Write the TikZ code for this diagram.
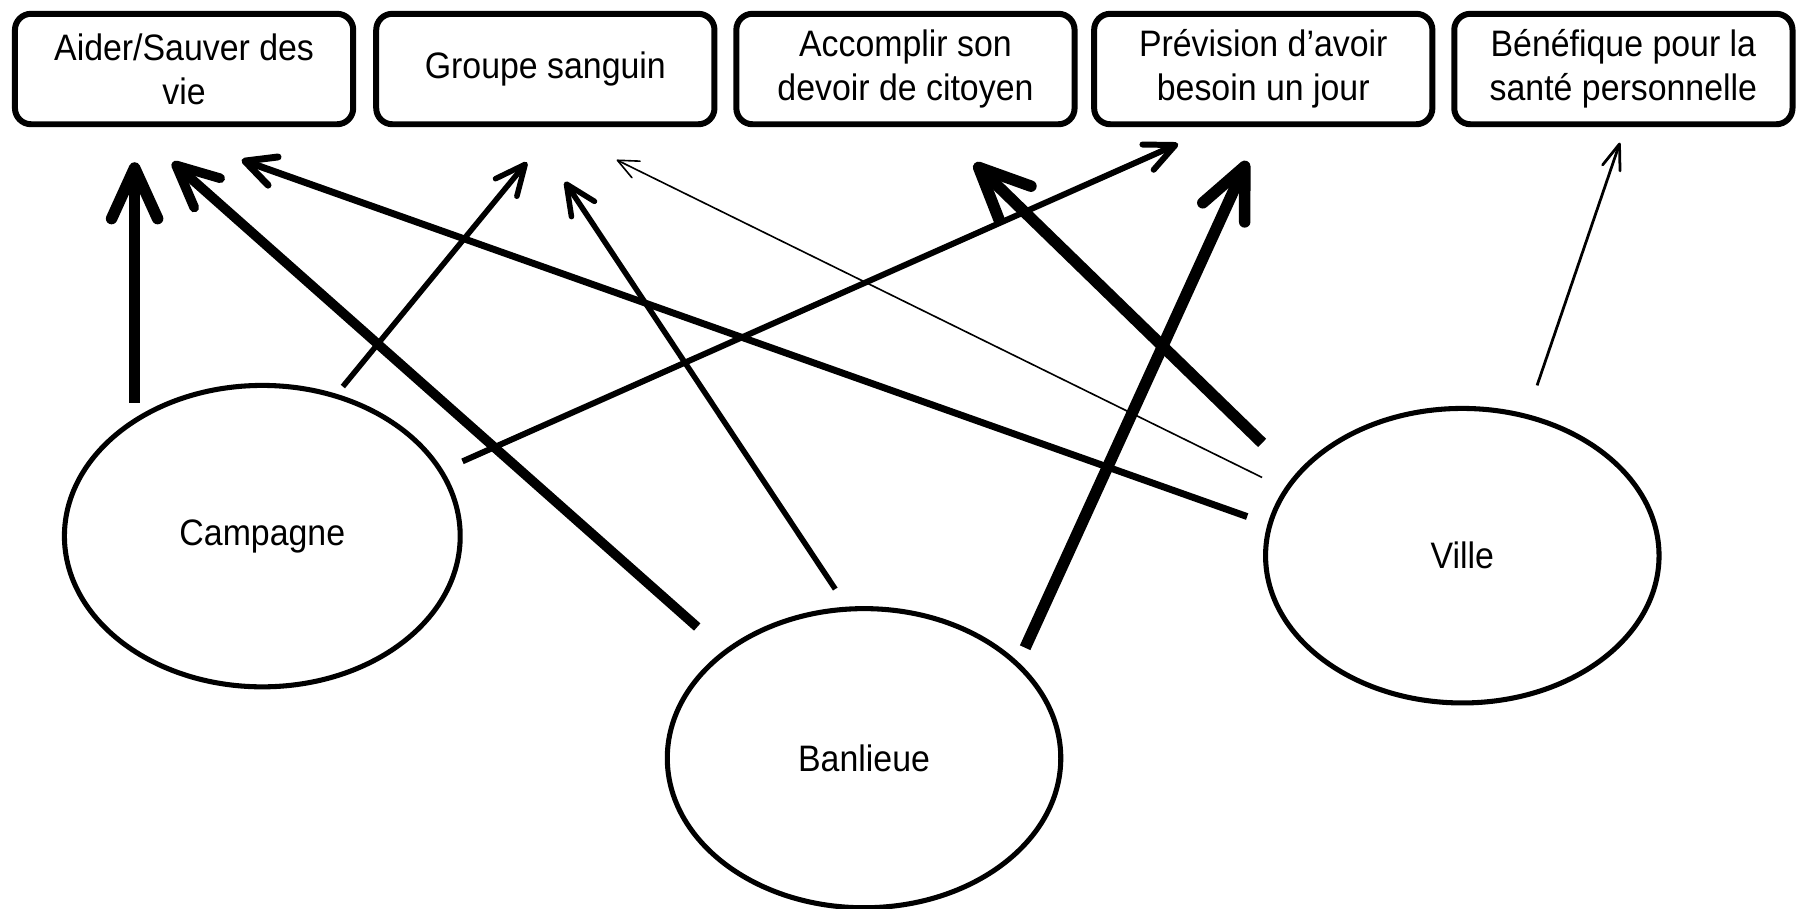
\documentclass[tikz,border=0pt]{standalone}
\usepackage{fontspec}
\setmainfont{Liberation Sans}[FakeStretch=0.92]
\usetikzlibrary{arrows.meta,shapes.geometric}
\begin{document}
\begin{tikzpicture}[x=0.5pt,y=-0.5pt,
  txt/.style={font=\fontsize{16}{19}\selectfont},
  box/.style={txt, draw, line width=2.6pt, rounded corners=7pt, minimum width=147pt, minimum height=48pt, align=center, inner sep=0pt},
  place/.style={txt, draw, ellipse, line width=2.2pt, inner sep=0pt},
  heavy/.style={line width=5pt, -{Straight Barb[round,length=22pt,width=20pt]}},
  strong/.style={line width=4.2pt, -{Straight Barb[round,length=18pt,width=17pt]}},
  mid/.style={line width=3pt, -{Straight Barb[round,length=13pt,width=13pt]}},
  med/.style={line width=2.4pt, -{Straight Barb[round,length=13pt,width=12pt]}},
  fine/.style={line width=0.7pt, -{Straight Barb[round,length=9pt,width=8pt]}},
  light/.style={line width=1.2pt, -{Straight Barb[round,length=11pt,width=8pt]}}
]
\useasboundingbox (0,0) rectangle (1568,790);
% boxes
\node[box] (aider) at (160,60) {Aider/Sauver des\\vie};
\node[box] (groupe) at (474,60) {Groupe sanguin};
\node[box] (accomplir) at (787,60) {Accomplir son\\devoir de citoyen};
\node[box] (prevision) at (1098,60) {Prévision d’avoir\\besoin un jour};
\node[box] (benefique) at (1411,60) {Bénéfique pour la\\santé personnelle};
% ellipses
\node[place, minimum width=172pt, minimum height=131pt] (campagne) at (228,466) {Campagne};
\node[place, minimum width=171pt, minimum height=130pt] (banlieue) at (751,659) {Banlieue};
\node[place, minimum width=171pt, minimum height=128pt] (ville) at (1271,483) {Ville};
% connector end points
\coordinate (c-a-s) at (117,350);  \coordinate (c-a-e) at (117,141);
\coordinate (b-a-s) at (606,545);  \coordinate (b-a-e) at (150,141);
\coordinate (v-a-s) at (1084,449); \coordinate (v-a-e) at (210,139);
\coordinate (c-g-s) at (298,336);  \coordinate (c-g-e) at (458,141);
\coordinate (b-g-s) at (726,512);  \coordinate (b-g-e) at (491,158);
\coordinate (v-g-s) at (1097,415); \coordinate (v-g-e) at (536,139);
\coordinate (c-p-s) at (402,401);  \coordinate (c-p-e) at (1024,125);
\coordinate (v-c-s) at (1097,385); \coordinate (v-c-e) at (847,142);
\coordinate (b-p-s) at (891,563);  \coordinate (b-p-e) at (1084,140);
\coordinate (v-b-s) at (1336,335); \coordinate (v-b-e) at (1408,124);
% connectors
\draw[heavy] (c-a-s) -- (c-a-e);
\draw[strong] (b-a-s) -- (b-a-e);
\draw[mid] (v-a-s) -- (v-a-e);
\draw[med] (c-g-s) -- (c-g-e);
\draw[med] (b-g-s) -- (b-g-e);
\draw[fine] (v-g-s) -- (v-g-e);
\draw[med, line width=2.6pt] (c-p-s) -- (c-p-e);
\draw[heavy] (v-c-s) -- (v-c-e);
\draw[heavy] (b-p-s) -- (b-p-e);
\draw[light] (v-b-s) -- (v-b-e);
\end{tikzpicture}
\end{document}
